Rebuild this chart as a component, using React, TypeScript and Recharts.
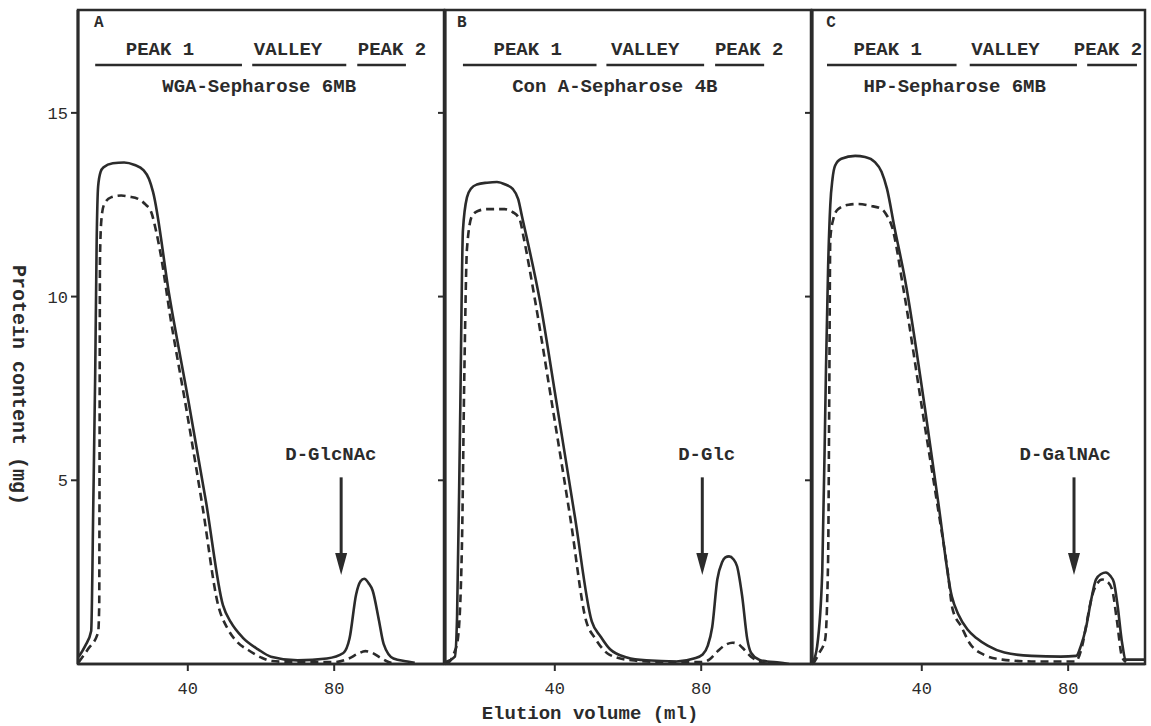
import { LineChart, Line, XAxis, YAxis, ReferenceArea, ReferenceLine, ReferenceDot } from 'recharts'

type Pt = [number, number] // [elution volume (ml), protein (mg)]

// Panel A – WGA-Sepharose 6MB
const wgaSolid: Pt[] = [
  [10.2, 0.2], [12, 0.5], [13.6, 0.9], [14.2, 4.5], [14.7, 7.9], [15.1, 11.5], [15.5, 13.0],
  [16.2, 13.4], [17, 13.52], [19.5, 13.63], [22.6, 13.65], [25.5, 13.58], [27.8, 13.45],
  [29.4, 13.2], [30.5, 12.85], [35, 10.0], [40.1, 7.2], [45, 4.4], [49.6, 1.6], [51.8, 1.13],
  [55, 0.72], [59.2, 0.4], [62.7, 0.2], [70, 0.1], [78, 0.15], [82.5, 0.3], [84.2, 0.7],
  [86, 1.9], [87.2, 2.25], [88.2, 2.32], [89.4, 2.2], [90.5, 2.0], [92.2, 1.2], [93.5, 0.55],
  [96.2, 0.15], [100, 0.07], [102, 0.03],
]
const wgaDashed: Pt[] = [
  [10.2, 0.05], [12.7, 0.4], [15.5, 0.86], [15.8, 1.6], [15.9, 6], [16, 11], [16.4, 12.1],
  [17.1, 12.5], [19, 12.7], [21.8, 12.75], [24, 12.72], [26.4, 12.66], [28.5, 12.5], [30, 12.3],
  [31.3, 11.8], [32.5, 11.2], [35.3, 9.4], [39.5, 7.0], [44, 4.3], [48.3, 1.6], [51, 0.94],
  [53.5, 0.6], [56.5, 0.38], [60, 0.18], [63, 0.08], [70, 0.05], [80, 0.05], [84, 0.15],
  [86.5, 0.28], [88.5, 0.35], [90.5, 0.3], [92.5, 0.18], [95, 0.05], [97, 0],
]

// Panel B – Con A-Sepharose 4B
const conSolid: Pt[] = [
  [10, 0.05], [12.7, 0.2], [13.3, 1.3], [14.1, 6.4], [14.9, 11.8], [16, 12.7], [17.2, 12.95],
  [18.7, 13.05], [21.5, 13.1], [24.2, 13.12], [26.5, 13.05], [28.5, 12.93], [30, 12.65],
  [31, 12.2], [35.9, 9.9], [40.5, 7.1], [45.5, 4.0], [50.1, 1.16], [52.5, 0.75], [55.1, 0.4],
  [59.7, 0.18], [65, 0.1], [73.2, 0.07], [78, 0.15], [80.4, 0.26], [81.8, 0.5], [83, 1.0],
  [84.4, 2.3], [85.7, 2.77], [86.6, 2.9], [87.6, 2.93], [88.8, 2.85], [89.8, 2.66], [91.2, 1.84],
  [92.6, 0.67], [93.6, 0.31], [95.8, 0.12], [98, 0.07], [101.3, 0.04], [104, 0],
]
const conDashed: Pt[] = [
  [10.5, 0], [12.5, 0.3], [13.5, 0.67], [14.6, 3.1], [15.3, 8], [16, 11.3], [17.4, 12.2],
  [19, 12.33], [21.4, 12.38], [26.3, 12.38], [28.5, 12.3], [30.4, 12.1], [31.5, 11.6],
  [34.6, 9.9], [39.2, 7.1], [44.2, 4.0], [48.6, 1.16], [51, 0.7], [55, 0.25], [61, 0.1],
  [70, 0.05], [80, 0.05], [82.2, 0.12], [84.5, 0.35], [86.8, 0.53], [88.5, 0.58], [90, 0.55],
  [91.2, 0.45], [93.6, 0.2], [95.8, 0.07], [98, 0],
]

// Panel C – HP-Sepharose 6MB
const hpSolid: Pt[] = [
  [10.3, 0.07], [11.4, 0.48], [12.8, 2.5], [13.8, 7.9], [14.4, 10.8], [15, 12.5], [15.6, 13.2],
  [16.3, 13.56], [18, 13.75], [21.8, 13.83], [24.5, 13.8], [27.2, 13.66], [29, 13.4],
  [30.5, 12.93], [32.5, 11.9], [35.4, 10.48], [40.8, 7.0], [44.5, 4.4], [48.2, 1.84], [50, 1.35],
  [52.5, 0.94], [55, 0.7], [58, 0.5], [62.6, 0.31], [70, 0.22], [78, 0.2], [82.2, 0.22],
  [83.5, 0.5], [84.9, 1.0], [86.2, 1.7], [87.6, 2.3], [89, 2.45], [90.3, 2.49], [91.5, 2.4],
  [92.5, 2.22], [93.5, 1.6], [94.7, 0.6], [95.8, 0.12], [101, 0.12],
]
const hpDashed: Pt[] = [
  [10.3, 0], [12, 0.3], [13.6, 0.67], [14.4, 2.85], [14.7, 7], [15, 11.57], [15.8, 12.1],
  [17.1, 12.38], [20, 12.5], [22.6, 12.52], [26, 12.47], [29.1, 12.38], [30.5, 12.2],
  [31.8, 11.92], [35, 10.2], [40, 7.0], [44, 4.5], [47.1, 2.5], [48.4, 1.5], [50.9, 1.0],
  [53, 0.58], [57, 0.25], [62, 0.12], [70, 0.07], [82, 0.07], [83.8, 0.48], [85.2, 1.2],
  [86.5, 1.84], [88, 2.2], [89.3, 2.3], [90.6, 2.25], [92, 2.03], [93.3, 1.2], [94.7, 0.2],
  [95.8, 0.05],
]

// fraction pools marked above each profile
const bandNames = ['PEAK 1', 'VALLEY', 'PEAK 2']
const wgaBands: Pt[] = [[14.7, 54.8], [57.6, 83.3], [86.3, 99.6]]
const wgaBandText = [32.4, 67.4, 95.8]
const conBands: Pt[] = [[14.9, 51.4], [54.1, 80.8], [83.8, 97.2]]
const conBandText = [32.6, 64.7, 93.1]
const hpBands: Pt[] = [[14.1, 49.5], [53.1, 82.4], [85.2, 98.8]]
const hpBandText = [30.7, 62.9, 90.9]

const xTicks = [40, 80]
const yTicks = [5, 10, 15]
const yMax = 17.8

const ink = '#2b2b2b'
const mono = '"Liberation Mono", "DejaVu Sans Mono", monospace'

const toRows = (pts: Pt[]) => pts.map(([ml, mg]) => ({ ml, mg }))

const note = (key: string, x: number, y: number, text: string, size = 19, anchor = 'middle') => (
  <ReferenceDot
    key={key}
    x={x}
    y={y}
    r={0}
    ifOverflow="visible"
    shape={(p: any) => (
      <text x={p.cx} y={p.cy} textAnchor={anchor} dominantBaseline="central" fill={ink}
        fontFamily={mono} fontSize={size} fontWeight="bold">{text}</text>
    )}
  />
)

type PanelProps = {
  left: number
  width: number
  axisWidth: number
  marginRight: number
  domain: [number, number]
  solid: Pt[]
  dashed: Pt[]
  letter: string
  letterX: number
  column: string
  columnX: number
  bands: Pt[]
  bandText: number[]
  sugar: string
  sugarX: number
  arrowX: number
  yLabels?: boolean
  xLabel?: any
  yLabel?: any
}

function Panel(p: PanelProps) {
  return (
    <div style={{ position: 'absolute', left: p.left, top: 0 }}>
      <LineChart width={p.width} height={726} margin={{ top: 10, right: p.marginRight, bottom: 0, left: 0 }}>
        <XAxis
          type="number"
          dataKey="ml"
          domain={p.domain}
          allowDataOverflow
          ticks={xTicks}
          interval={0}
          height={62}
          axisLine={{ stroke: ink, strokeWidth: 2.5 }}
          tickLine={{ stroke: ink, strokeWidth: 2 }}
          tickSize={7}
          tickMargin={11}
          tick={{ fill: ink, fontSize: 17, fontFamily: mono }}
          label={p.xLabel}
        />
        <YAxis
          type="number"
          domain={[0, yMax]}
          allowDataOverflow
          ticks={yTicks}
          interval={0}
          width={p.axisWidth}
          axisLine={{ stroke: ink, strokeWidth: 3 }}
          tickLine={{ stroke: ink, strokeWidth: 2 }}
          tickSize={7}
          tickMargin={3}
          tick={{ fill: ink, fontSize: 17, fontFamily: mono }}
          tickFormatter={p.yLabels ? undefined : () => ''}
          label={p.yLabel}
        />
        <ReferenceArea
          x1={p.domain[0]}
          x2={p.domain[1]}
          y1={0}
          y2={yMax}
          fill="none"
          stroke={ink}
          strokeWidth={2.5}
          ifOverflow="visible"
        />
        {p.bands.map(([a, b], i) => (
          <ReferenceLine
            key={'band' + i}
            segment={[{ x: a, y: 16.3 }, { x: b, y: 16.3 }]}
            stroke={ink}
            strokeWidth={2.5}
            ifOverflow="visible"
          />
        ))}
        {p.bandText.map((x, i) => note('bt' + i, x, 16.72, bandNames[i]))}
        {note('letter', p.letterX, 17.45, p.letter, 16, 'start')}
        {note('column', p.columnX, 15.7, p.column)}
        {note('sugar', p.sugarX, 5.7, p.sugar)}
        <ReferenceLine
          segment={[{ x: p.arrowX, y: 5.08 }, { x: p.arrowX, y: 2.9 }]}
          stroke={ink}
          strokeWidth={3}
          ifOverflow="visible"
        />
        <ReferenceDot
          x={p.arrowX}
          y={2.42}
          r={0}
          ifOverflow="visible"
          shape={(d: any) => (
            <path d={`M${d.cx - 6},${d.cy - 22} L${d.cx + 6},${d.cy - 22} L${d.cx},${d.cy} Z`} fill={ink} />
          )}
        />
        <Line
          data={toRows(p.solid)}
          dataKey="mg"
          type="monotone"
          stroke={ink}
          strokeWidth={2.6}
          dot={false}
          activeDot={false}
          isAnimationActive={false}
        />
        <Line
          data={toRows(p.dashed)}
          dataKey="mg"
          type="monotone"
          stroke={ink}
          strokeWidth={2.6}
          strokeDasharray="8 5"
          dot={false}
          activeDot={false}
          isAnimationActive={false}
        />
      </LineChart>
    </div>
  )
}

export default function App() {
  return (
    <div style={{ position: 'absolute', left: 0, top: 0, width: 1151, height: 726, background: '#fff' }}>
      <Panel
        left={0}
        width={446}
        axisWidth={78}
        marginRight={2}
        domain={[10, 110]}
        solid={wgaSolid}
        dashed={wgaDashed}
        letter="A"
        letterX={14.4}
        column="WGA-Sepharose 6MB"
        columnX={59.5}
        bands={wgaBands}
        bandText={wgaBandText}
        sugar="D-GlcNAc"
        sugarX={79.1}
        arrowX={81.9}
        yLabels
        yLabel={() => (
          <text x={18} y={385} transform="rotate(90 18 385)" textAnchor="middle" dominantBaseline="central"
            fill={ink} fontFamily={mono} fontSize={20} fontWeight="bold">Protein content (mg)</text>
        )}
      />
      <Panel
        left={435}
        width={378}
        axisWidth={10}
        marginRight={2}
        domain={[10, 110]}
        solid={conSolid}
        dashed={conDashed}
        letter="B"
        letterX={13.3}
        column="Con A-Sepharose 4B"
        columnX={56.4}
        bands={conBands}
        bandText={conBandText}
        sugar="D-Glc"
        sugarX={81.5}
        arrowX={80.3}
        xLabel={() => (
          <text x={155} y={714} textAnchor="middle" dominantBaseline="central"
            fill={ink} fontFamily={mono} fontSize={19} fontWeight="bold">Elution volume (ml)</text>
        )}
      />
      <Panel
        left={802}
        width={347}
        axisWidth={10}
        marginRight={4}
        domain={[10, 101]}
        solid={hpSolid}
        dashed={hpDashed}
        letter="C"
        letterX={13.9}
        column="HP-Sepharose 6MB"
        columnX={49}
        bands={hpBands}
        bandText={hpBandText}
        sugar="D-GalNAc"
        sugarX={79.2}
        arrowX={81.6}
      />
    </div>
  )
}
